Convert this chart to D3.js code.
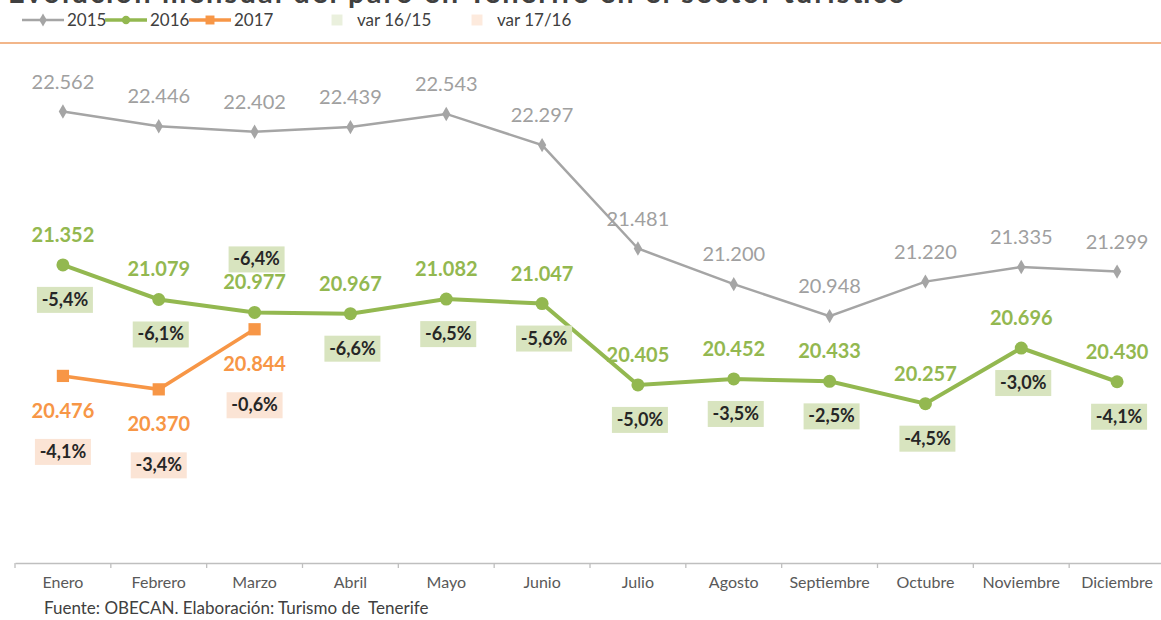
<!DOCTYPE html>
<html>
<head>
<meta charset="utf-8">
<script src="https://cdn.jsdelivr.net/npm/d3@7"></script>
<style>
  body { margin: 0; background: #fff; }
  svg { display: block; font-family: Lato, "Open Sans", sans-serif; }
</style>
</head>
<body>
<svg id="chart" width="1161" height="620"></svg>
<script>
// data
const months = ["Enero", "Febrero", "Marzo", "Abril", "Mayo", "Junio", "Julio",
                "Agosto", "Septiembre", "Octubre", "Noviembre", "Diciembre"];
const paro2015 = [22562, 22446, 22402, 22439, 22543, 22297, 21481, 21200, 20948, 21220, 21335, 21299];
const paro2016 = [21352, 21079, 20977, 20967, 21082, 21047, 20405, 20452, 20433, 20257, 20696, 20430];
const paro2017 = [20476, 20370, 20844];
const var1615 = [-5.4, -6.1, -6.4, -6.6, -6.5, -5.6, -5.0, -3.5, -2.5, -4.5, -3.0, -4.1];
const var1716 = [-4.1, -3.4, -0.6];
const yDomain = [19000, 23000];

const c2015 = "#a5a5a5", c2016 = "#93b850", c2017 = "#f79646";
const boxGreen = "#d8e4bf", boxPeach = "#fbe4d5";

const svg = d3.select("#chart");

const fmtN = d3.formatLocale({decimal: ",", thousands: ".", grouping: [3]}).format(",d");
const fmtP = v => v.toFixed(1).replace(".", ",") + "%";

// title (cut off at the top edge in the original)
svg.append("text")
    .attr("x", 8).attr("y", 3)
    .attr("font-size", 29).attr("font-weight", 700)
    .attr("fill", "#404040")
    .attr("textLength", 897)
    .text("Evolución mensual del paro en Tenerife en el sector turístico");

// legend
const legend = svg.append("g").attr("transform", "translate(0,20)");
const legItems = [
    {x: 22, label: "2015", color: c2015, shape: d3.symbolDiamond, size: 50, line: 2.5},
    {x: 105, label: "2016", color: c2016, shape: d3.symbolCircle, size: 55, line: 3.5},
    {x: 189, label: "2017", color: c2017, shape: d3.symbolSquare, size: 80, line: 3.5},
    {x: 316, label: "var 16/15", color: "#eaf0dd", shape: d3.symbolSquare, size: 120, line: 0},
    {x: 456, label: "var 17/16", color: "#fdeadd", shape: d3.symbolSquare, size: 120, line: 0}
];
legItems.forEach(it => {
    const g = legend.append("g").attr("transform", `translate(${it.x},0)`);
    if (it.line) {
        g.append("line").attr("x1", 0).attr("x2", 42).attr("y1", 0).attr("y2", 0)
            .attr("stroke", it.color).attr("stroke-width", it.line);
    }
    g.append("path").attr("d", d3.symbol().type(it.shape).size(it.size)())
        .attr("transform", "translate(21,0)").attr("fill", it.color);
    g.append("text").attr("x", it.line ? 45 : 41).attr("y", 6)
        .attr("font-size", 17).attr("fill", "#404040").text(it.label);
});

svg.append("line").attr("x1", 0).attr("x2", 1161).attr("y1", 43).attr("y2", 43)
    .attr("stroke", "#f2b68a").attr("stroke-width", 2);

// scales
const x = d3.scaleBand().domain(months).range([15, 1165]);
const y = d3.scaleLinear().domain(yDomain).range([563, 56]);
const cx = m => x(m) + x.bandwidth() / 2;

// x axis
const xAxis = svg.append("g").attr("transform", "translate(0,563)")
    .call(d3.axisBottom(x).tickSize(0).tickPadding(14));
xAxis.select(".domain").attr("stroke", "#bfbfbf").attr("stroke-width", 1.3);
xAxis.selectAll("text").attr("font-size", 16).attr("fill", "#595959")
    .attr("font-family", "Lato, 'Open Sans', sans-serif");
xAxis.selectAll("line.edge").data(months.concat(["_end"])).enter().append("line")
    .attr("class", "edge")
    .attr("x1", (d, i) => x.range()[0] + i * x.step())
    .attr("x2", (d, i) => x.range()[0] + i * x.step())
    .attr("y1", 0).attr("y2", 5)
    .attr("stroke", "#bfbfbf").attr("stroke-width", 1.3);

// footer
svg.append("text").attr("x", 44).attr("y", 614)
    .attr("font-size", 17).attr("fill", "#404040")
    .attr("xml:space", "preserve")
    .text("Fuente: OBECAN. Elaboración: Turismo de  Tenerife");

const line = d3.line().x((d, i) => cx(months[i])).y(d => y(d));

// 2015
svg.append("path").datum(paro2015).attr("d", line)
    .attr("fill", "none").attr("stroke", c2015).attr("stroke-width", 2.5);
svg.selectAll("path.m15").data(paro2015).enter().append("path").attr("class", "m15")
    .attr("d", d3.symbol().type(d3.symbolDiamond).size(60)())
    .attr("transform", (d, i) => `translate(${cx(months[i])},${y(d)})`)
    .attr("fill", c2015);
svg.selectAll("text.l15").data(paro2015).enter().append("text").attr("class", "l15")
    .attr("x", (d, i) => cx(months[i])).attr("y", d => y(d) - 23)
    .attr("text-anchor", "middle").attr("font-size", 20).attr("fill", "#a0a0a0")
    .text(d => fmtN(d));

// 2016
svg.append("path").datum(paro2016).attr("d", line)
    .attr("fill", "none").attr("stroke", c2016).attr("stroke-width", 4);
svg.selectAll("circle.m16").data(paro2016).enter().append("circle").attr("class", "m16")
    .attr("cx", (d, i) => cx(months[i])).attr("cy", d => y(d)).attr("r", 6.5)
    .attr("fill", c2016);
svg.selectAll("text.l16").data(paro2016).enter().append("text").attr("class", "l16")
    .attr("x", (d, i) => cx(months[i])).attr("y", d => y(d) - 23)
    .attr("text-anchor", "middle").attr("font-size", 20).attr("font-weight", 700)
    .attr("fill", c2016).text(d => fmtN(d));

// 2017
svg.append("path").datum(paro2017).attr("d", line)
    .attr("fill", "none").attr("stroke", c2017).attr("stroke-width", 3.5);
svg.selectAll("path.m17").data(paro2017).enter().append("path").attr("class", "m17")
    .attr("d", d3.symbol().type(d3.symbolSquare).size(150)())
    .attr("transform", (d, i) => `translate(${cx(months[i])},${y(d)})`)
    .attr("fill", c2017);
svg.selectAll("text.l17").data(paro2017).enter().append("text").attr("class", "l17")
    .attr("x", (d, i) => cx(months[i])).attr("y", d => y(d) + 42)
    .attr("text-anchor", "middle").attr("font-size", 20).attr("font-weight", 700)
    .attr("fill", c2017).text(d => fmtN(d));

// variation boxes
function box(cxv, cyv, txt, fill) {
    const g = svg.append("g").attr("transform", `translate(${cxv},${cyv})`);
    g.append("rect").attr("x", -28).attr("y", -13).attr("width", 56).attr("height", 26)
        .attr("fill", fill);
    g.append("text").attr("y", 6).attr("text-anchor", "middle")
        .attr("font-size", 18).attr("font-weight", 700).attr("fill", "#262626")
        .text(txt);
}
var1615.forEach((v, i) => {
    const px = cx(months[i]), py = y(paro2016[i]);
    // when the 2017 marker sits just below, the box goes above the value label
    const crowded = i < paro2017.length && y(paro2017[i]) - py < 40;
    box(px + 2, crowded ? py - 53 : py + 35, fmtP(v), boxGreen);
});
var1716.forEach((v, i) => {
    box(cx(months[i]), y(paro2017[i]) + 76, fmtP(v), boxPeach);
});
</script>
</body>
</html>
